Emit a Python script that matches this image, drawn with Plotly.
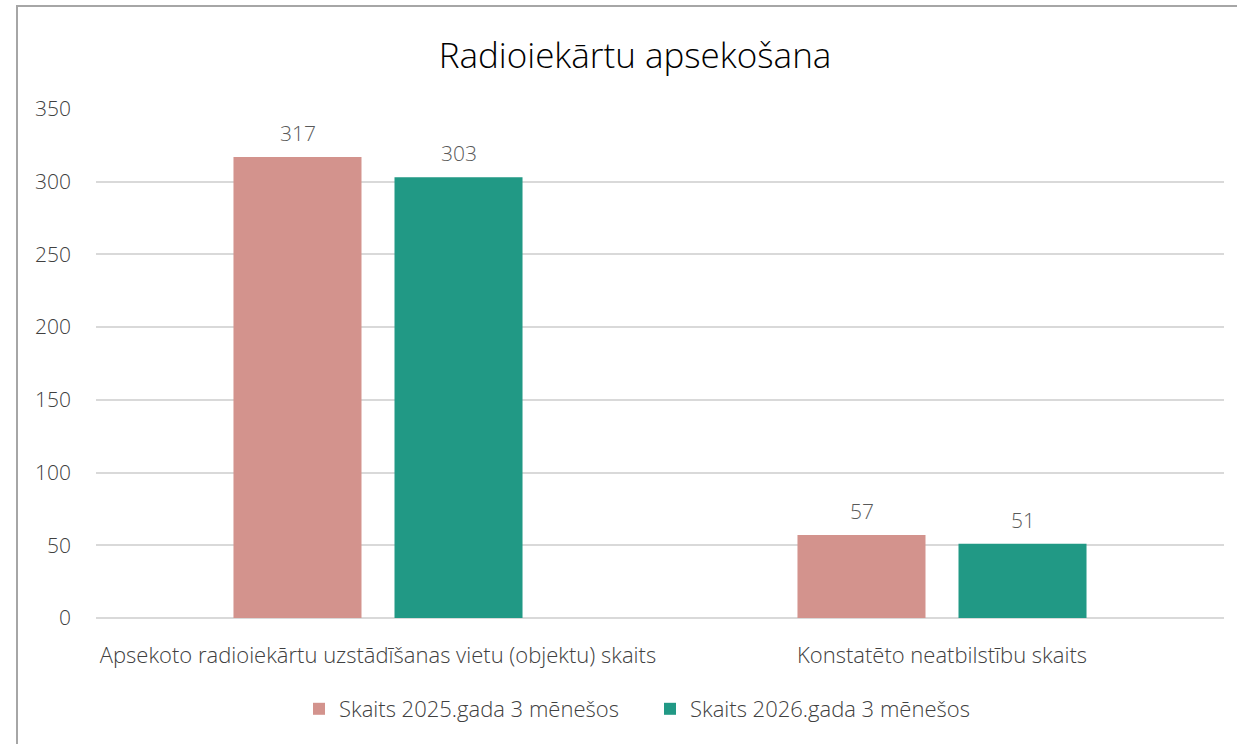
import plotly.graph_objects as go

# categories and values
categories = ["Apsekoto radioiekārtu uzstādīšanas vietu (objektu) skaits",
              "Konstatēto neatbilstību skaits"]
series_names = ["Skaits 2025.gada 3 mēnešos", "Skaits 2026.gada 3 mēnešos"]
values_2025 = [317, 57]
values_2026 = [303, 51]
colors = ["#D3938D", "#219985"]

W, H = 1237, 744
L, R, T, B = 96, 13, 109, 126
pw, ph = W - L - R, H - T - B
FONT = "Open Sans"


def px_to_paper(x, y):
    return (x - L) / pw, (H - B - y) / ph


fig = go.Figure()
for i, (name, vals, col) in enumerate(zip(series_names, [values_2025, values_2026], colors)):
    fig.add_trace(go.Bar(x=categories, y=vals, name=name, marker_color=col,
                         marker_line_width=0))
    # value labels sit a bit higher above the bars than plotly's own outside text
    for c, v in zip(categories, vals):
        fig.add_annotation(x=c, y=v, text=str(v), showarrow=False, yanchor="bottom",
                           xshift=(-80.5 if i == 0 else 80.5), yshift=8,
                           font=dict(family=FONT, size=21, color="#595959", weight=300))

# outer chart frame (runs past the right and bottom edges of the picture)
x0, y0 = px_to_paper(17, 6)
x1, y1 = px_to_paper(1253, 780)
fig.add_shape(type="rect", xref="paper", yref="paper", x0=x0, y0=y1, x1=x1, y1=y0,
              line=dict(color="#A6A6A6", width=2), layer="below")

fig.update_layout(
    width=W, height=H,
    margin=dict(l=L, r=R, t=T, b=B),
    paper_bgcolor="white", plot_bgcolor="white",
    font=dict(family=FONT, color="#404040", size=21, weight=300),
    title=dict(text="Radioiekārtu apsekošana", x=635 / W, xanchor="center",
               y=1 - 56 / H, yanchor="middle", xref="container", yref="container",
               font=dict(size=35, color="#000000", weight=300)),
    barmode="group", bargap=0.429, bargroupgap=0.205,
    legend=dict(orientation="h", x=650 / W, xref="container",
                xanchor="center", y=1 - 709 / H, yref="container", yanchor="middle",
                font=dict(size=22, color="#404040", weight=300), itemwidth=30,
                entrywidth=306, entrywidthmode="pixels", tracegroupgap=0),
    showlegend=True,
)
fig.update_yaxes(range=[0, 350], dtick=50, showgrid=True, gridcolor="#D9D9D9",
                 gridwidth=1.5, zeroline=True, zerolinecolor="#D9D9D9",
                 zerolinewidth=1.5, showline=False, ticks="",
                 ticklabelstandoff=24, tickfont=dict(size=21, color="#404040", weight=300))
fig.update_xaxes(showline=False, ticks="", ticklabelstandoff=22,
                 tickfont=dict(size=22, color="#404040", weight=300))

# drop the page's default body margin so the figure fills the window from (0, 0)
fig.write_html("out.html", config={"displayModeBar": False},
               post_script="document.body.style.margin='0';")
